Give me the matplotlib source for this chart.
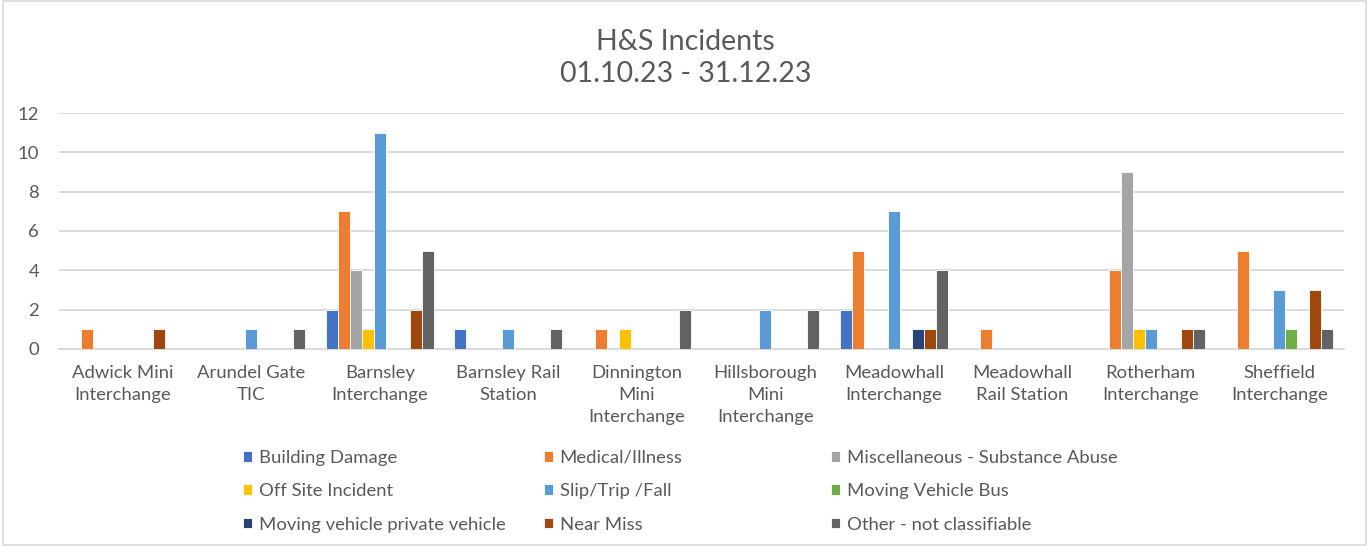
import numpy as np
import matplotlib.pyplot as plt
from matplotlib.patches import Rectangle

plt.rcParams['font.family'] = ['Lato', 'DejaVu Sans']

# categories and series
sites = ['Adwick Mini\nInterchange', 'Arundel Gate\nTIC', 'Barnsley\nInterchange',
         'Barnsley Rail\nStation', 'Dinnington\nMini\nInterchange',
         'Hillsborough\nMini\nInterchange', 'Meadowhall\nInterchange',
         'Meadowhall\nRail Station', 'Rotherham\nInterchange', 'Sheffield\nInterchange']

building_damage = [0, 0, 2, 1, 0, 0, 2, 0, 0, 0]
medical_illness = [1, 0, 7, 0, 1, 0, 5, 1, 4, 5]
misc_substance = [0, 0, 4, 0, 0, 0, 0, 0, 9, 0]
off_site = [0, 0, 1, 0, 1, 0, 0, 0, 1, 0]
slip_trip_fall = [0, 1, 11, 1, 0, 2, 7, 0, 1, 3]
vehicle_bus = [0, 0, 0, 0, 0, 0, 0, 0, 0, 1]
vehicle_private = [0, 0, 0, 0, 0, 0, 1, 0, 0, 0]
near_miss = [1, 0, 2, 0, 0, 0, 1, 0, 1, 3]
other = [0, 1, 5, 1, 2, 2, 4, 0, 1, 1]

series = [
    ('Building Damage', building_damage, '#4472C4'),
    ('Medical/Illness', medical_illness, '#ED7D31'),
    ('Miscellaneous - Substance Abuse', misc_substance, '#A5A5A5'),
    ('Off Site Incident', off_site, '#FFC000'),
    ('Slip/Trip /Fall', slip_trip_fall, '#5B9BD5'),
    ('Moving Vehicle Bus', vehicle_bus, '#70AD47'),
    ('Moving vehicle private vehicle', vehicle_private, '#264478'),
    ('Near Miss', near_miss, '#9E480E'),
    ('Other - not classifiable', other, '#636363'),
]

text_col = '#595959'

fig = plt.figure(figsize=(13.71, 5.46), dpi=100)
ax = fig.add_axes([0.0428, 0.361, 0.9372, 0.432])

x = np.arange(len(sites))
n = len(series)
slot = 0.84 / n
handles = []
for i, (name, vals, col) in enumerate(series):
    off = (i - (n - 1) / 2) * slot
    b = ax.bar(x + off, vals, slot, color=col, edgecolor='white', linewidth=0.6,
               label=name, zorder=3)
    handles.append(b)

ax.set_xlim(-0.5, len(sites) - 0.5)
ax.set_ylim(0, 12)
ax.set_yticks(range(0, 13, 2))
ax.set_xticks(x)
ax.set_xticklabels(sites, fontsize=13.3, color=text_col, linespacing=1.45)
ax.tick_params(axis='y', labelsize=13.3, labelcolor=text_col, length=0, pad=14)
ax.tick_params(axis='x', length=0, pad=11.5)
ax.grid(axis='y', color='#D9D9D9', linewidth=1.3, zorder=0)
for s in ['top', 'right', 'left']:
    ax.spines[s].set_visible(False)
ax.spines['bottom'].set_color('#D9D9D9')
ax.spines['bottom'].set_linewidth(1.3)

fig.text(0.5, 0.923, 'H&S Incidents', ha='center', va='center', fontsize=20.5, color=text_col)
fig.text(0.5, 0.864, '01.10.23 - 31.12.23', ha='center', va='center', fontsize=20.5, color=text_col)

# legend: three fixed-width columns, filled row by row
col_x = [243 / 1371, 544 / 1371, 831 / 1371]
for c in range(3):
    hs = [handles[c + 3 * r] for r in range(3)]
    leg = fig.legend(handles=hs, loc='upper left', bbox_to_anchor=(col_x[c], 0.176),
                     frameon=False, fontsize=13.3, handlelength=0.5, handleheight=0.5,
                     handletextpad=0.35, labelspacing=0.94, borderpad=0, borderaxespad=0)
    for t in leg.get_texts():
        t.set_color(text_col)

fig.patches.append(Rectangle((0.002, 0.002), 0.994, 0.996, transform=fig.transFigure,
                             fill=False, edgecolor='#D9D9D9', linewidth=1.2))

fig.savefig('out.png', dpi=100)
